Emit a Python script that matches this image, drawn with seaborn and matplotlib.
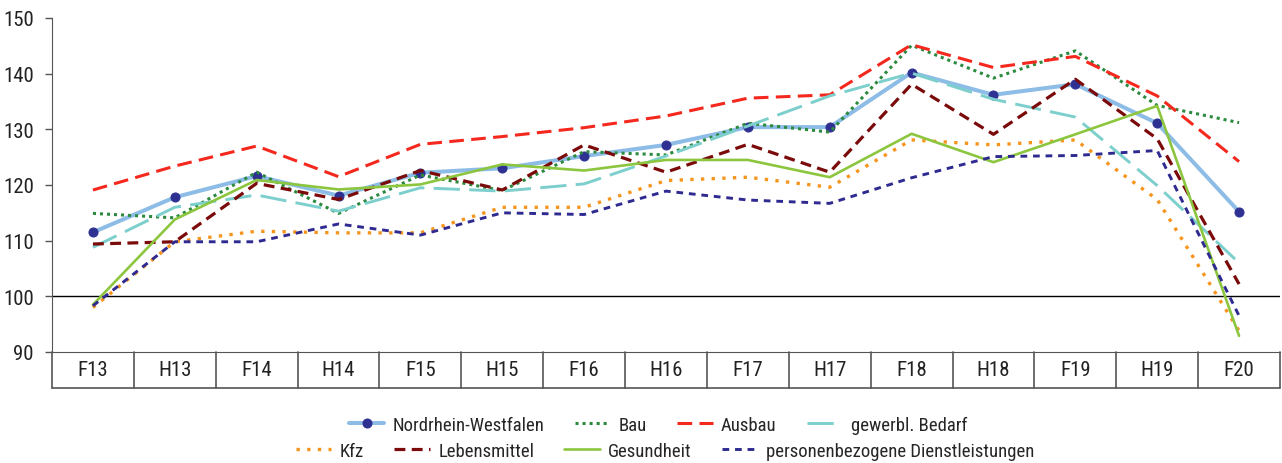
import numpy as np
import pandas as pd
import matplotlib
matplotlib.use("Agg")
import matplotlib.pyplot as plt
import seaborn as sns

# Halbjahre
periods = ["F13", "H13", "F14", "H14", "F15", "H15", "F16", "H16",
           "F17", "H17", "F18", "H18", "F19", "H19", "F20"]

nrw = [111.5, 117.8, 121.6, 118.1, 122.2, 123.0, 125.2, 127.2, 130.4, 130.4, 140.2, 136.2, 138.1, 131.1, 115.2]
bau = [114.9, 114.1, 122.3, 114.9, 121.8, 119.0, 126.0, 125.4, 131.1, 129.5, 145.1, 139.2, 144.1, 134.3, 131.2]
ausbau = [119.1, 123.4, 127.0, 121.5, 127.3, 128.7, 130.3, 132.4, 135.6, 136.2, 145.2, 141.1, 143.1, 136.0, 124.2]
gewerbl = [108.8, 116.0, 118.2, 115.3, 119.5, 118.9, 120.2, 125.2, 130.6, 136.0, 140.1, 135.4, 132.2, 119.9, 106.0]
kfz = [98.0, 109.8, 111.7, 111.4, 111.4, 116.0, 116.0, 120.8, 121.4, 119.6, 128.1, 127.2, 128.1, 117.4, 93.8]
lebensmittel = [109.4, 109.8, 120.3, 117.4, 122.6, 119.1, 127.2, 122.3, 127.3, 122.3, 138.1, 129.1, 139.0, 128.3, 102.2]
gesundheit = [98.5, 113.8, 120.9, 119.2, 120.1, 123.7, 122.6, 124.5, 124.5, 121.4, 129.2, 124.1, 129.1, 134.2, 92.9]
personal = [98.3, 109.8, 109.8, 113.0, 111.0, 115.0, 114.7, 118.9, 117.3, 116.7, 121.3, 125.1, 125.3, 126.2, 96.5]

sns.set_style("white")
plt.rcParams["font.family"] = ["Roboto Condensed", "PT Sans Narrow", "DejaVu Sans"]

fig, ax = plt.subplots(figsize=(12.82, 4.64), dpi=100)
fig.subplots_adjust(left=52 / 1282, right=1280 / 1282, top=1 - 19 / 464, bottom=1 - 353 / 464)

x = np.arange(len(periods))

# name, data, colour, linestyle, linewidth
series = [
    ("Nordrhein-Westfalen", nrw, "#8dbde6", "-", 2.9),
    ("Bau", bau, "#2b8a3e", (0, (1, 1.3)), 2.2),
    ("Ausbau", ausbau, "#f5281e", (0, (4.8, 2.4)), 2.2),
    ("gewerbl. Bedarf", gewerbl, "#7ccfcc", (0, (9, 3.2)), 2.1),
    ("Kfz", kfz, "#f7941d", (0, (1, 2.2)), 2.4),
    ("Lebensmittel", lebensmittel, "#7b0a0a", (0, (3.4, 2)), 2.3),
    ("Gesundheit", gesundheit, "#8cc63f", "-", 1.9),
    ("personenbezogene Dienstleistungen", personal, "#2e2a8f", (0, (2.3, 2)), 2.1),
]

handles = {}
for name, vals, col, ls, lw in series:
    df = pd.DataFrame({"x": x, "y": vals})
    if name == "Nordrhein-Westfalen":
        sns.lineplot(data=df, x="x", y="y", ax=ax, color=col, lw=lw, marker="o",
                     markersize=6.5, markerfacecolor="#2e3192", markeredgecolor="#2e3192",
                     label=name, zorder=3)
    else:
        sns.lineplot(data=df, x="x", y="y", ax=ax, color=col, lw=lw, linestyle=ls,
                     label=name, zorder=3)
    handles[name] = ax.lines[-1]

ax.axhline(100, color="black", lw=1, zorder=2)

ax.set_xlim(-0.5, len(periods) - 0.5)
ax.set_ylim(90, 150)
ax.set_yticks(np.arange(90, 151, 10))
ax.set_xticks([])
ax.set_xlabel("")
ax.set_ylabel("")
ax.tick_params(axis="y", direction="out", length=5, width=1, color="#555555",
               labelsize=15, labelcolor="#222222", left=True, pad=8)

for s in ["top", "right"]:
    ax.spines[s].set_visible(False)
ax.spines["left"].set_color("#555555")
ax.spines["bottom"].set_color("#555555")

# Tabelle mit Kategorien unter der Achse
tbl_h = 36 / (353 - 19)
trans = matplotlib.transforms.blended_transform_factory(ax.transData, ax.transAxes)
for i, p in enumerate(periods):
    ax.text(i, -tbl_h / 2, p, transform=trans, ha="center", va="center",
            fontsize=15, color="#222222")
for i in range(len(periods) + 1):
    ax.plot([i - 0.5, i - 0.5], [0, -tbl_h], transform=trans, color="#555555",
            lw=1.2, clip_on=False)
ax.plot([-0.5, len(periods) - 0.5], [-tbl_h, -tbl_h], transform=trans,
        color="#555555", lw=1.2, clip_on=False)

ax.legend().remove()

row1 = ["Nordrhein-Westfalen", "Bau", "Ausbau", "gewerbl. Bedarf"]
row2 = ["Kfz", "Lebensmittel", "Gesundheit", "personenbezogene Dienstleistungen"]
leg_kw = dict(ncol=4, frameon=False, fontsize=13.5, handlelength=1.9,
              columnspacing=1.6, handletextpad=0.45, borderpad=0)
leg1 = fig.legend([handles[n] for n in row1], row1, loc="center",
                  bbox_to_anchor=(658 / 1282, 1 - 426 / 464), **leg_kw)
fig.legend([handles[n] for n in row2], row2, loc="center",
           bbox_to_anchor=(665 / 1282, 1 - 452 / 464), **leg_kw)

fig.savefig("out.png", dpi=100)
